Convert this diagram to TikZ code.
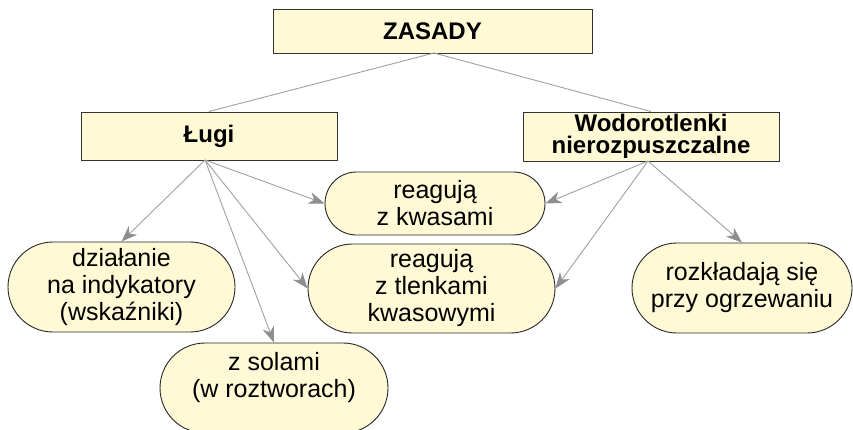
\documentclass[tikz,border=0pt]{standalone}
\usepackage{fontspec}
\setmainfont{Liberation Sans}
\usetikzlibrary{shapes.misc}
\usetikzlibrary{arrows.meta}

\definecolor{boxfill}{RGB}{255,249,214}
\definecolor{linegray}{RGB}{158,160,162}
\definecolor{tipgray}{RGB}{140,142,145}

\begin{document}
\begin{tikzpicture}[x=1pt,y=-1pt,
    headbox/.style={draw=black!80, fill=boxfill, line width=1pt, align=center, inner sep=0pt,
        font=\bfseries\fontsize{24}{22.5}\selectfont},
    pill/.style={rounded rectangle, draw=black!85, fill=boxfill, line width=0.9pt, align=center,
        inner sep=0pt, minimum height=90pt, font=\fontsize{25}{27}\selectfont},
    link/.style={linegray, line width=0.9pt},
    arr/.style={link, -{Stealth[length=16pt,width=12pt,inset=5pt,color=tipgray]}}]

    \clip (0,0) rectangle (853,429);

    % top row
    \node[headbox, minimum width=319pt, minimum height=44pt] (zasady) at (432.5,31) {ZASADY};
    \node[headbox, minimum width=256pt, minimum height=48pt] (lugi) at (209,136) {Ługi};
    \node[headbox, minimum width=256pt, minimum height=49pt] (wodo) at (651,136.5) {Wodorotlenki\\nierozpuszczalne};

    % properties
    \node[pill, minimum width=227pt] (dzial) at (121.5,287) {działanie\\na indykatory\\(wskaźniki)};
    \node[pill, minimum width=220pt, minimum height=63pt] (kwas) at (435,203.5) {reagują\\z kwasami};
    \node[pill, minimum width=247pt, minimum height=89pt] (tlen) at (431.5,288.5) {reagują\\z tlenkami\\kwasowymi};
    \node[pill, minimum width=220pt] (rozk) at (742,288) {rozkładają się\\przy ogrzewaniu};
    \node[pill, minimum width=228pt] (sol) at (274,388) {z solami\\(w roztworach)\\~};

    \coordinate (zasady-out) at (434,53);
    \coordinate (lugi-out) at (205,160);
    \coordinate (wodo-out) at (648,161);

    \draw[link] (zasady-out) -- (lugi.north);
    \draw[link] (zasady-out) -- (wodo.north);

    \foreach \t in {dzial.north, sol.north, kwas.west, tlen.west}
        \draw[arr] (lugi-out) -- (\t);
    \foreach \t in {kwas.east, tlen.east, rozk.north}
        \draw[arr] (wodo-out) -- (\t);
\end{tikzpicture}
\end{document}
